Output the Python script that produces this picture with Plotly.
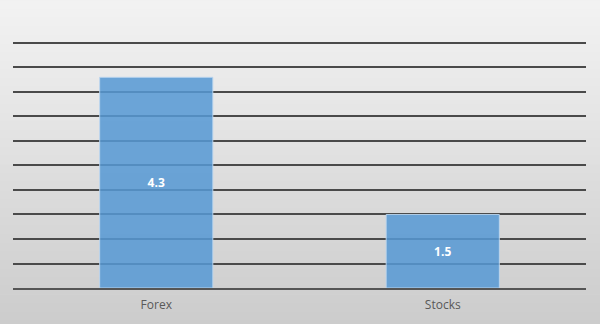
import plotly.graph_objects as go

categories = ["Forex", "Stocks"]
values = [4.3, 1.5]
labels = ["4.3", "1.5"]

fig = go.Figure()
fig.add_trace(go.Bar(
    x=categories, y=values, text=labels,
    textposition="inside", insidetextanchor="middle",
    textfont=dict(family="Open Sans", size=12, color="white"),
    texttemplate="<b>%{text}</b>",
    marker=dict(color="rgba(86,152,212,0.86)",
                line=dict(color="rgba(190,215,240,0.9)", width=1)),
    width=0.395, hoverinfo="skip",
))

# background gradient (styling only)
shapes = []
n = 40
top = (243, 243, 243)
bot = (203, 203, 203)
for i in range(n):
    t = i / (n - 1)
    c = tuple(int(round(top[k] + (bot[k] - top[k]) * t)) for k in range(3))
    shapes.append(dict(type="rect", xref="paper", yref="paper",
                       x0=-0.1, x1=1.1,
                       y1=1.2 - i * (1.4 / n), y0=1.2 - (i + 1) * (1.4 / n) - 0.002,
                       fillcolor="rgb(%d,%d,%d)" % c, line=dict(width=0), layer="below"))

fig.update_layout(
    width=600, height=324,
    margin=dict(l=13, r=14, t=41, b=36),
    paper_bgcolor="rgb(225,225,225)",
    plot_bgcolor="rgba(0,0,0,0)",
    shapes=shapes,
    showlegend=False,
    bargap=0.6,
    xaxis=dict(showgrid=False, showline=True, linecolor="#555555", linewidth=2,
               ticks="outside", ticklen=5, tickcolor="rgba(0,0,0,0)",
               tickfont=dict(family="Open Sans", size=12, color="#595959"),
               fixedrange=True),
    yaxis=dict(range=[0, 5.04], tick0=0, dtick=0.5, showgrid=True, gridcolor="#4a4a4a", gridwidth=2,
               showticklabels=False, zeroline=False, fixedrange=True),
)

fig.write_html("out.html")
